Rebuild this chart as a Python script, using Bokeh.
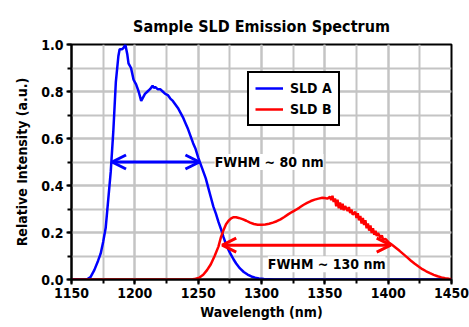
from bokeh.plotting import figure
from bokeh.models import (Range1d, FixedTicker, PrintfTickFormatter, Arrow, OpenHead,
                          Label, Legend, LegendItem)
from bokeh.embed import file_html
from bokeh.resources import INLINE

# ---- data ----
wl_a = [1150, 1162, 1165, 1168, 1171, 1173, 1175, 1177, 1179, 1181, 1183, 1185, 1187, 1188,
        1190, 1191, 1192.5, 1194, 1195, 1197, 1199, 1201, 1203, 1204, 1205, 1206, 1208, 1210,
        1212, 1214, 1215, 1216, 1218, 1220, 1222, 1224, 1226, 1228, 1230, 1232, 1234, 1236,
        1238, 1240, 1242, 1244, 1246, 1248, 1250, 1252, 1254, 1256, 1258, 1260, 1262, 1264,
        1266, 1268, 1270, 1272, 1274, 1276, 1278, 1280, 1283, 1286, 1289, 1292, 1295, 1298,
        1302, 1310, 1450]
int_a = [0.0, 0.0, 0.01, 0.04, 0.08, 0.11, 0.16, 0.22, 0.34, 0.46, 0.63, 0.84, 0.95, 0.98,
         0.98, 0.985, 1.0, 0.96, 0.92, 0.90, 0.85, 0.83, 0.80, 0.78, 0.76, 0.77, 0.79, 0.80,
         0.81, 0.825, 0.815, 0.82, 0.81, 0.81, 0.80, 0.79, 0.785, 0.77, 0.76, 0.745, 0.73, 0.71,
         0.69, 0.665, 0.64, 0.61, 0.58, 0.555, 0.52, 0.49, 0.46, 0.43, 0.39, 0.35, 0.31, 0.28,
         0.245, 0.215, 0.18, 0.15, 0.125, 0.105, 0.085, 0.068, 0.047, 0.032, 0.021, 0.013, 0.008, 0.004,
         0.002, 0.0, 0.0]

wl_b = [1150, 1245, 1248, 1251, 1254, 1257, 1260, 1263, 1266, 1268, 1270, 1272, 1274, 1276,
        1278, 1280, 1282, 1285, 1288, 1291, 1294, 1297, 1300, 1303, 1306, 1309, 1312, 1315,
        1318, 1321, 1324, 1327, 1330, 1333, 1336, 1339, 1342, 1345, 1348, 1350, 1352, 1354,
        1355, 1356, 1357, 1358, 1359, 1360, 1361, 1362, 1363, 1364, 1365, 1366, 1368, 1369,
        1370, 1371, 1372, 1374, 1375, 1376, 1377, 1378, 1379, 1380, 1381, 1382, 1383, 1384,
        1385, 1386, 1387, 1388, 1389, 1390, 1391, 1392, 1394, 1395, 1396, 1398, 1400, 1403,
        1406, 1409, 1412, 1415, 1418, 1421, 1424, 1427, 1430, 1433, 1436, 1439, 1442, 1445,
        1448, 1450]
int_b = [0.0, 0.0, 0.003, 0.008, 0.02, 0.04, 0.065, 0.10, 0.14, 0.18, 0.21, 0.235, 0.25, 0.26,
         0.265, 0.265, 0.262, 0.257, 0.25, 0.242, 0.236, 0.233, 0.233, 0.234, 0.237, 0.242, 0.248, 0.256,
         0.266, 0.277, 0.287, 0.296, 0.306, 0.317, 0.326, 0.334, 0.34, 0.344, 0.348, 0.347, 0.344, 0.352,
         0.338, 0.356, 0.33, 0.345, 0.312, 0.34, 0.303, 0.328, 0.298, 0.322, 0.295, 0.312, 0.292, 0.308,
         0.283, 0.298, 0.276, 0.288, 0.262, 0.282, 0.252, 0.27, 0.238, 0.262, 0.232, 0.252, 0.218, 0.238,
         0.208, 0.23, 0.198, 0.218, 0.19, 0.207, 0.185, 0.198, 0.176, 0.188, 0.17, 0.172, 0.16, 0.148,
         0.135, 0.122, 0.108, 0.094, 0.08, 0.067, 0.055, 0.044, 0.035, 0.027, 0.02, 0.014, 0.009, 0.005,
         0.003, 0.002]

series_names = ["SLD A", "SLD B"]
fwhm_a = [1182, 1251]
fwhm_a_level = 0.5
fwhm_b = [1269, 1402]
fwhm_b_level = 0.146
fwhm_labels = ["FWHM ~ 80 nm", "FWHM ~ 130 nm"]
x_ticks = [1150, 1200, 1250, 1300, 1350, 1400, 1450]
x_minor = [1150 + 25 * i for i in range(13)]
y_ticks = [0.0, 0.2, 0.4, 0.6, 0.8, 1.0]
y_minor = [0.1 * i for i in range(11)]

FONT = "'DejaVu Sans Condensed', 'Liberation Sans', sans-serif"
STYLE = "bold"
GRID = "#c4c4c4"

p = figure(width=469, height=327, output_backend="svg", toolbar_location=None,
           x_range=Range1d(1150, 1450), y_range=Range1d(0, 1.0),
           title="Sample SLD Emission Spectrum",
           min_border_left=71, min_border_right=18, min_border_top=44, min_border_bottom=48)

p.title.align = "center"
p.title.text_font = FONT
p.title.text_font_size = "16px"
p.title.text_font_style = STYLE
p.title.text_color = "black"
p.title.vertical_align = "top"
p.title.standoff = 14

p.outline_line_color = "black"
p.outline_line_width = 2
p.outline_line_alpha = 1

p.xaxis.ticker = FixedTicker(ticks=x_ticks, minor_ticks=x_minor)
p.yaxis.ticker = FixedTicker(ticks=y_ticks, minor_ticks=y_minor)
p.xaxis.formatter = PrintfTickFormatter(format="%d")
p.yaxis.formatter = PrintfTickFormatter(format="%.1f")

for ax in (p.xaxis, p.yaxis):
    ax.axis_line_color = "black"
    ax.axis_line_width = 2
    ax.major_tick_line_color = "black"
    ax.major_tick_line_width = 2
    ax.minor_tick_line_color = "black"
    ax.minor_tick_line_width = 2
    ax.major_tick_in = 0
    ax.major_tick_out = 5
    ax.minor_tick_in = 0
    ax.minor_tick_out = 4
    ax.major_label_text_font = FONT
    ax.major_label_text_font_size = "14px"
    ax.major_label_text_font_style = STYLE
    ax.major_label_text_color = "black"
    ax.axis_label_text_font = FONT
    ax.axis_label_text_font_size = "14px"
    ax.axis_label_text_font_style = STYLE
    ax.axis_label_text_color = "black"

p.xaxis.axis_label = "Wavelength (nm)"
p.yaxis.axis_label = "Relative Intensity (a.u.)"
p.xaxis.major_label_standoff = 3
p.yaxis.major_label_standoff = 3
p.xaxis.axis_label_standoff = 3
p.yaxis.axis_label_standoff = 8

p.xgrid.grid_line_color = GRID
p.xgrid.grid_line_width = 2
p.xgrid.minor_grid_line_color = GRID
p.xgrid.minor_grid_line_width = 2
p.ygrid.grid_line_color = GRID
p.ygrid.grid_line_width = 2
p.ygrid.minor_grid_line_color = GRID
p.ygrid.minor_grid_line_width = 2

ra = p.line(wl_a, int_a, line_color="#0000ff", line_width=2.5)
rb = p.line(wl_b, int_b, line_color="#ff0000", line_width=2.5)

legend = Legend(items=[LegendItem(label=series_names[0], renderers=[ra]),
                       LegendItem(label=series_names[1], renderers=[rb])],
                location=(176, 153))
legend.border_line_color = "black"
legend.border_line_width = 2
legend.border_line_alpha = 1
legend.background_fill_color = "white"
legend.background_fill_alpha = 1
legend.label_text_font = FONT
legend.label_text_font_size = "14px"
legend.label_text_font_style = STYLE
legend.label_text_color = "black"
legend.glyph_width = 28
legend.glyph_height = 18
legend.label_standoff = 7
legend.spacing = 3
legend.padding = 6
legend.margin = 0
p.add_layout(legend, "center")

p.add_layout(Arrow(start=OpenHead(size=14, line_color="#0000ff", line_width=3),
                   end=OpenHead(size=14, line_color="#0000ff", line_width=3),
                   x_start=fwhm_a[0], y_start=fwhm_a_level, x_end=fwhm_a[1], y_end=fwhm_a_level,
                   line_color="#0000ff", line_width=3))
p.add_layout(Arrow(start=OpenHead(size=14, line_color="#ff0000", line_width=3),
                   end=OpenHead(size=14, line_color="#ff0000", line_width=3),
                   x_start=fwhm_b[0], y_start=fwhm_b_level, x_end=fwhm_b[1], y_end=fwhm_b_level,
                   line_color="#ff0000", line_width=3))

p.add_layout(Label(x=1263, y=fwhm_a_level, text=fwhm_labels[0], text_font=FONT,
                   text_font_size="14px", text_font_style=STYLE, text_color="black",
                   text_baseline="middle", text_align="left",
                   background_fill_color="white", background_fill_alpha=1))
p.add_layout(Label(x=1305, y=0.065, text=fwhm_labels[1], text_font=FONT,
                   text_font_size="14px", text_font_style=STYLE, text_color="black",
                   text_baseline="middle", text_align="left",
                   background_fill_color="white", background_fill_alpha=1))

open("out.html", "w").write(file_html(p, INLINE))
